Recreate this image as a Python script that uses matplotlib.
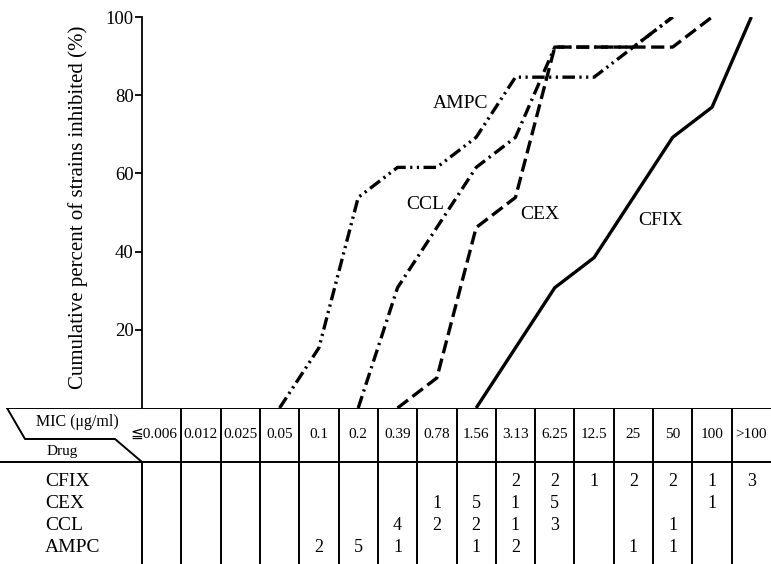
import matplotlib
matplotlib.use("Agg")
import matplotlib.pyplot as plt
import numpy as np

# ---------------- data ----------------
mic_labels = ["≦0.006", "0.012", "0.025", "0.05", "0.1", "0.2", "0.39", "0.78",
              "1.56", "3.13", "6.25", "12.5", "25", "50", "100", ">100"]
drugs = ["CFIX", "CEX", "CCL", "AMPC"]
cfix = [0, 0, 0, 0, 0, 0, 0, 0, 0, 2, 2, 1, 2, 2, 1, 3]
cex = [0, 0, 0, 0, 0, 0, 0, 1, 5, 1, 5, 0, 0, 0, 1, 0]
ccl = [0, 0, 0, 0, 0, 0, 4, 2, 2, 1, 3, 0, 0, 1, 0, 0]
ampc = [0, 0, 0, 0, 2, 5, 1, 0, 1, 2, 0, 0, 1, 1, 0, 0]
yticks = [20, 40, 60, 80, 100]

counts = {"CFIX": cfix, "CEX": cex, "CCL": ccl, "AMPC": ampc}

# ---------------- layout ----------------
W, H = 771, 564
plt.rcParams['lines.scale_dashes'] = False
SERIF = ['Liberation Serif', 'DejaVu Serif', 'DejaVu Sans']
plt.rcParams['font.family'] = SERIF

fig = plt.figure(figsize=(W / 100, H / 100), dpi=100)

x0_px, y0_px, ytop_px = 142, 408, 17
ncol = len(mic_labels)
colw = (W - x0_px) / ncol

def px2col(px):
    return (px - x0_px) / colw

ax = fig.add_axes([x0_px / W, (H - y0_px) / H, (W - x0_px) / W, (y0_px - ytop_px) / H])
ax.set_xlim(0, ncol)
ax.set_ylim(0, 100)
for s in ("top", "right", "bottom"):
    ax.spines[s].set_visible(False)
ax.spines["left"].set_linewidth(1.3)
ax.set_xticks([])
ax.set_yticks(yticks)
ax.set_yticklabels([str(t) for t in yticks], fontsize=13.5)
ax.tick_params(axis="y", direction="out", length=5, width=1.3, pad=1)
ax.set_ylabel("Cumulative percent of strains inhibited (%)", fontsize=15)
ax.yaxis.set_label_coords(-0.086, 0.512)
ax.patch.set_alpha(0)

styles = {
    "CFIX": dict(linestyle="-"),
    "CEX": dict(dashes=(9.5, 4)),
    "CCL": dict(dashes=(9, 3.5, 1.6, 3.5)),
    "AMPC": dict(dashes=(9, 3.2, 1.6, 3.2, 1.6, 3.2)),
}
for d in drugs:
    c = np.array(counts[d], dtype=float)
    cum = np.cumsum(c) / c.sum() * 100
    first = int(np.argmax(c > 0))
    last = int(np.argmax(cum >= 99.999))
    idx = np.arange(first - 1, last + 1)
    ax.plot(idx + 0.5, cum[idx], color="black", lw=2.4, solid_capstyle="butt",
            dash_capstyle="butt", **styles[d])

label_pos = {"AMPC": (8.11, 78), "CCL": (7.2, 52), "CEX": (10.12, 49.5), "CFIX": (13.18, 48)}
for d, (lx, ly) in label_pos.items():
    ax.text(lx, ly, d, fontsize=14, ha="center", va="center")

# ---------------- table ----------------
tax = fig.add_axes([0, 0, 1, (H - y0_px) / H])
tax.set_xlim(px2col(0), ncol)
tax.set_ylim(H, y0_px)
tax.axis("off")

lw_t = 1.4
hdr_bot = 462
# top line
tax.plot([px2col(7), ncol], [y0_px, y0_px], color="black", lw=lw_t)
# header / body separator
tax.plot([px2col(0), ncol], [hdr_bot, hdr_bot], color="black", lw=lw_t)
# MIC / Drug parallelogram
tax.plot([px2col(7), px2col(25), px2col(115), px2col(142)],
         [y0_px, 439, 439, hdr_bot], color="black", lw=lw_t)
# column dividers
for i in range(1, ncol):
    tax.plot([i, i], [y0_px, H], color="black", lw=lw_t)
tax.plot([0, 0], [hdr_bot, H], color="black", lw=lw_t)

tax.text(px2col(77), 422, "MIC (μg/ml)", fontsize=11.5, ha="center", va="center")
tax.text(px2col(62), 451, "Drug", fontsize=11, ha="center", va="center")

for i, lab in enumerate(mic_labels):
    xc = i + 0.5 if i > 0 else px2col(154)
    tax.text(xc, 434, lab, fontsize=11, ha="center", va="center")

row_y = [481, 503, 525, 547]
for d, ry in zip(drugs, row_y):
    tax.text(px2col(45), ry, d, fontsize=14, ha="left", va="center")
    for i, v in enumerate(counts[d]):
        if v:
            tax.text(i + 0.5, ry, str(v), fontsize=13, ha="center", va="center")

fig.savefig("out.png", dpi=100)
